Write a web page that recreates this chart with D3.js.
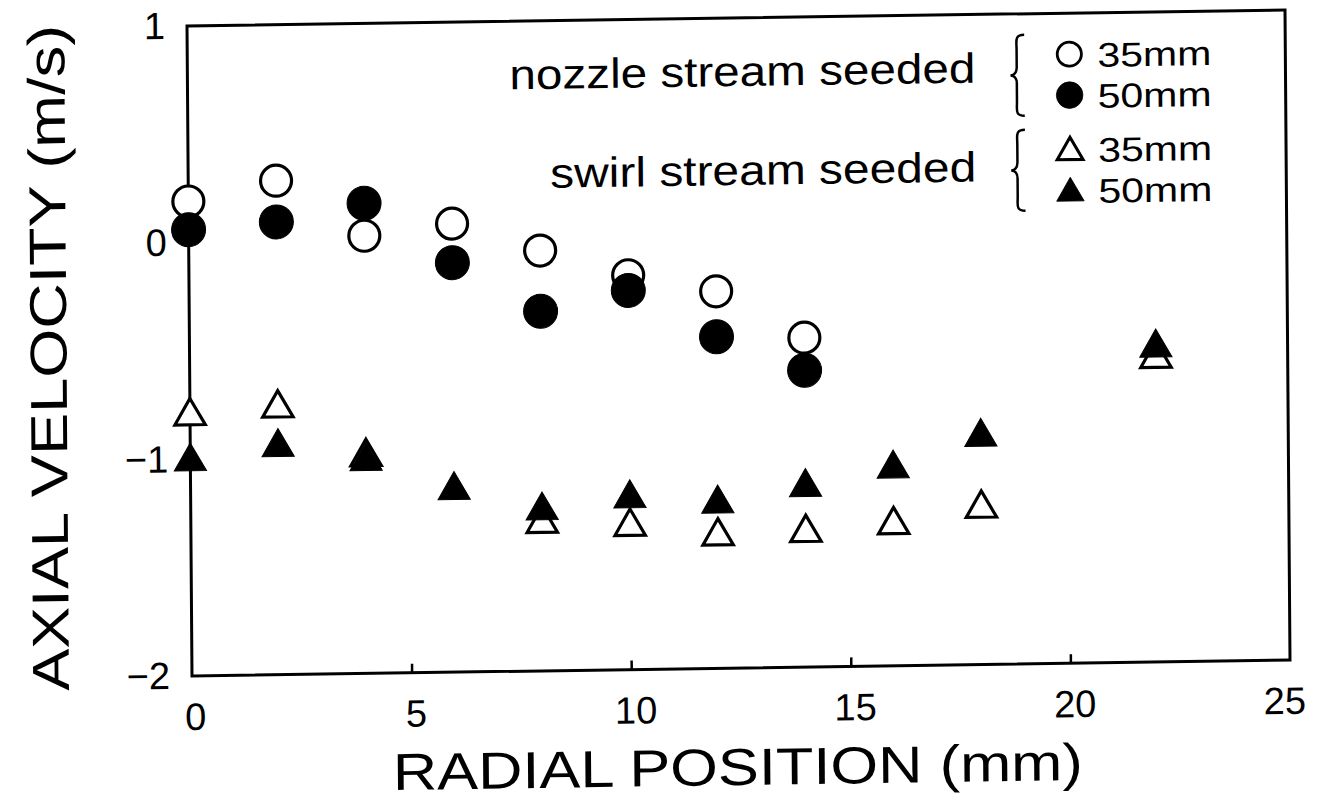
<!DOCTYPE html>
<html>
<head>
<meta charset="utf-8">
<script src="https://cdn.jsdelivr.net/npm/d3@7"></script>
<style>
  html, body { margin: 0; padding: 0; background: #fff; }
  svg { display: block; }
  text { font-family: "Liberation Sans", Arial, sans-serif; fill: #000; }
</style>
</head>
<body>
<svg id="chart" width="1335" height="803"></svg>
<script>
// Radial positions (mm)
const radialNozzle = [0, 2, 4, 6, 8, 10, 12, 14];
const radialSwirl35 = [0, 2, 4, 8, 10, 12, 14, 16, 18, 22];
const radialSwirl50 = [0, 2, 4, 6, 8, 10, 12, 14, 16, 18, 22];

// Axial velocity (m/s)
const nozzle35 = [0.19, 0.28, 0.02, 0.07, -0.06, -0.18, -0.26, -0.48];
const nozzle50 = [0.06, 0.09, 0.17, -0.11, -0.34, -0.25, -0.47, -0.63];
const swirl35 = [-0.80, -0.77, -1.00, -1.32, -1.34, -1.39, -1.38, -1.35, -1.28, -0.60];
const swirl50 = [-1.01, -0.95, -1.02, -1.16, -1.26, -1.21, -1.24, -1.17, -1.09, -0.95, -0.55];

const xTicks = [0, 5, 10, 15, 20, 25];
const yTicks = [-2, -1, 0, 1];

const legendGroups = ["nozzle stream seeded", "swirl stream seeded"];
const legendSizes = ["35mm", "50mm"];

// The whole figure sits slightly askew on the page
const root = d3.select("#chart").append("g")
  .attr("transform", "matrix(1,-0.0146,0.0077,1,-0.2,2.73)");

const x = d3.scaleLinear().domain([0, 25]).range([187, 1285]);
const y = d3.scaleLinear().domain([-2, 1]).range([676, 26]);

// Frame
root.append("rect")
  .attr("x", x(0)).attr("y", y(1))
  .attr("width", x(25) - x(0)).attr("height", y(-2) - y(1))
  .attr("fill", "none").attr("stroke", "#000").attr("stroke-width", 3);

// Axes with inward ticks
const xAxis = d3.axisBottom(x).tickValues(xTicks).tickFormat(d3.format("d"))
  .tickSizeInner(-9).tickSizeOuter(0).tickPadding(27);
const gx = root.append("g").attr("transform", `translate(0,${y(-2)})`).call(xAxis);
gx.select(".domain").remove();
gx.selectAll(".tick line").attr("stroke", "#000").attr("stroke-width", 2.5)
  .attr("display", d => (d === 0 || d === 25) ? "none" : null);
gx.selectAll(".tick text").attr("font-size", 38)
  .attr("font-family", "Liberation Sans, Arial, sans-serif")
  .attr("dx", d => d === 25 ? -6 : (d === 0 ? 3 : 4));

const yAxis = d3.axisLeft(y).tickValues(yTicks).tickFormat(d3.format("d"))
  .tickSizeInner(-9).tickSizeOuter(0).tickPadding(22);
const gy = root.append("g").attr("transform", `translate(${x(0)},0)`).call(yAxis);
gy.select(".domain").remove();
gy.selectAll(".tick line").attr("stroke", "#000").attr("stroke-width", 2.5)
  .attr("display", d => (d === -2 || d === 1) ? "none" : null);
gy.selectAll(".tick text").attr("font-size", 38)
  .attr("font-family", "Liberation Sans, Arial, sans-serif");

// Axis titles
root.append("text")
  .attr("x", 732).attr("y", 793)
  .attr("text-anchor", "middle")
  .attr("font-size", 52)
  .attr("textLength", 690).attr("lengthAdjust", "spacingAndGlyphs")
  .text("RADIAL POSITION (mm)");

root.append("text")
  .attr("transform", "translate(64,356) rotate(-90)")
  .attr("text-anchor", "middle")
  .attr("font-size", 52)
  .attr("textLength", 666).attr("lengthAdjust", "spacingAndGlyphs")
  .text("AXIAL VELOCITY (m/s)");

// Marker shapes
const circleOpen = d3.symbol().type(d3.symbolCircle).size(Math.PI * 15.5 * 15.5);
const circleFilled = d3.symbol().type(d3.symbolCircle).size(Math.PI * 17 * 17);
const triOpen = d3.symbol().type(d3.symbolTriangle).size(400);
const triFilled = d3.symbol().type(d3.symbolTriangle).size(450);

function plotSeries(xs, vs, gen, filled) {
  root.append("g").selectAll("path")
    .data(xs.map((d, i) => [d, vs[i]]))
    .join("path")
    .attr("transform", d => `translate(${x(d[0])},${y(d[1])})`)
    .attr("d", gen())
    .attr("fill", filled ? "#000" : "#fff")
    .attr("stroke", "#000")
    .attr("stroke-width", filled ? 1 : 3.2)
    .attr("stroke-linejoin", "miter");
}

plotSeries(radialSwirl35, swirl35, triOpen, false);
plotSeries(radialSwirl50, swirl50, triFilled, true);
plotSeries(radialNozzle, nozzle35, circleOpen, false);
plotSeries(radialNozzle, nozzle50, circleFilled, true);

// Legend: group label, curly brace, two marker rows
function brace(xr, y0, y1) {
  const ym = (y0 + y1) / 2;
  const w = 14;
  return `M${xr},${y0} C${xr - w * 0.7},${y0} ${xr - w * 0.55},${y0 + 6} ${xr - w * 0.55},${y0 + 14}
          L${xr - w * 0.55},${ym - 8} C${xr - w * 0.55},${ym - 2} ${xr - w * 0.8},${ym} ${xr - w},${ym}
          C${xr - w * 0.8},${ym} ${xr - w * 0.55},${ym + 2} ${xr - w * 0.55},${ym + 8}
          L${xr - w * 0.55},${y1 - 14} C${xr - w * 0.55},${y1 - 6} ${xr - w * 0.7},${y1} ${xr},${y1}`;
}

const legendRows = [
  { label: legendGroups[0], base: 94, rows: [67, 108], markers: [circleOpen, circleFilled], scale: 0.78, len: 466 },
  { label: legendGroups[1], base: 193, rows: [162, 203], markers: [triOpen, triFilled], scale: 0.85, len: 426 }
];

legendRows.forEach(r => {
  root.append("text")
    .attr("x", 975).attr("y", r.base)
    .attr("text-anchor", "end")
    .attr("font-size", 42)
    .attr("font-family", "DejaVu Sans, sans-serif")
    .attr("textLength", r.len)
    .attr("lengthAdjust", "spacingAndGlyphs")
    .text(r.label);

  root.append("path")
    .attr("d", brace(1024, r.rows[0] - 20, r.rows[1] + 20))
    .attr("fill", "none").attr("stroke", "#000").attr("stroke-width", 2.5);

  r.rows.forEach((ry, i) => {
    root.append("path")
      .attr("transform", `translate(1069,${ry + (r.markers[i] === triOpen || r.markers[i] === triFilled ? 3 : 0)}) scale(${r.scale})`)
      .attr("d", r.markers[i]())
      .attr("fill", i === 1 ? "#000" : "#fff")
      .attr("stroke", "#000")
      .attr("stroke-width", i === 1 ? 1 : 3.6);
    root.append("text")
      .attr("x", 1097).attr("y", ry + 13)
      .attr("font-size", 34)
      .attr("font-family", "DejaVu Sans, sans-serif")
      .attr("textLength", 114).attr("lengthAdjust", "spacingAndGlyphs")
      .text(legendSizes[i]);
  });
});
</script>
</body>
</html>
